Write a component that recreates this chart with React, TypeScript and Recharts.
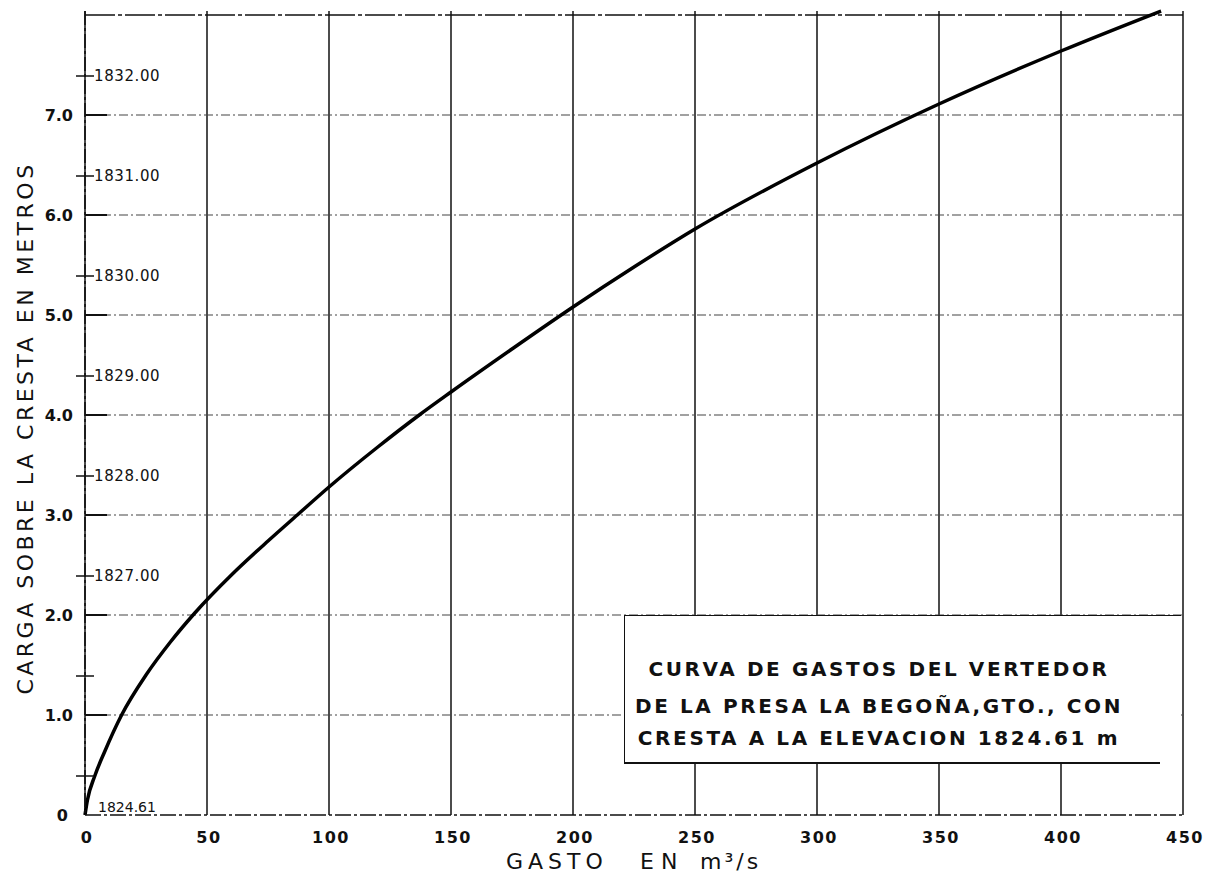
import React from 'react';
import { LineChart, Line, XAxis, YAxis, CartesianGrid, ReferenceLine } from 'recharts';

// gasto (m3/s) vs carga sobre la cresta (m)
const gasto = [0, 1, 4, 8, 15, 25, 35, 45, 60, 75, 87, 100, 120, 137, 150, 175, 200, 225, 250, 300, 350, 400, 441];
const carga = [0, 0.15, 0.39, 0.63, 1.0, 1.4, 1.73, 2.02, 2.4, 2.74, 3.0, 3.28, 3.68, 4.0, 4.23, 4.66, 5.08, 5.48, 5.86, 6.52, 7.11, 7.64, 8.04];

const gastoTicks = [0, 50, 100, 150, 200, 250, 300, 350, 400, 450];
const cargaTicks = [0, 1, 2, 3, 4, 5, 6, 7];
const cargaLabels = ['0', '1.0', '2.0', '3.0', '4.0', '5.0', '6.0', '7.0'];
const cargaMax = 8;

const elevacionCresta = 1824.61;
const elevaciones = [1825, 1826, 1827, 1828, 1829, 1830, 1831, 1832];
const elevLabels = ['', '', '1827.00', '1828.00', '1829.00', '1830.00', '1831.00', '1832.00'];

const titulo = [
  'CURVA DE GASTOS DEL VERTEDOR',
  'DE LA PRESA LA BEGOÑA,GTO., CON',
  'CRESTA A LA ELEVACION 1824.61 m',
];

const data = gasto.map((q, i) => ({ q, h: carga[i] }));
const elevTicks = elevaciones.map((e) => +(e - elevacionCresta).toFixed(2));
const yTicks = [...cargaTicks, ...elevTicks].sort((a, b) => a - b);

const ink = '#111';
const font = '"DejaVu Sans", sans-serif';

const YTick = (props: any) => {
  const { x, y, payload } = props;
  const v = payload.value;
  const ci = cargaTicks.indexOf(v);
  if (ci >= 0) {
    return (
      <g>
        <text x={x - (v === 0 ? 17 : 12)} y={y} dy={6} textAnchor="end" fontSize={16} fontWeight="bold" fill={ink} fontFamily={font}>
          {cargaLabels[ci]}
        </text>
        {v > 0 && <line x1={x} x2={x + 22} y1={y} y2={y} stroke={ink} strokeWidth={2} />}
        {v === 0 && (
          <text x={x + 13} y={y - 3} fontSize={14} fill={ink} fontFamily={font}>
            {elevacionCresta.toFixed(2)}
          </text>
        )}
      </g>
    );
  }
  const ei = elevTicks.indexOf(v);
  return (
    <g>
      <line x1={x - 9} x2={x + 9} y1={y} y2={y} stroke={ink} strokeWidth={1.5} />
      {elevLabels[ei] && (
        <text x={x + 9} y={y} dy={5} fontSize={15} letterSpacing={0.6} fill={ink} fontFamily={font}>
          {elevLabels[ei]}
        </text>
      )}
    </g>
  );
};

const XTick = (props: any) => {
  const { x, y, payload } = props;
  return (
    <text x={x + 2} y={y} dy={20} textAnchor="middle" fontSize={16} fontWeight="bold" letterSpacing={1.5} fill={ink} fontFamily={font}>
      {payload.value}
    </text>
  );
};

const XTitle = () => (
  <g fill={ink} fontFamily={font} fontSize={22}>
    <text x={506} y={869} letterSpacing={5}>GASTO</text>
    <text x={640} y={869} letterSpacing={7}>EN</text>
    <text x={700} y={869} letterSpacing={3}>m³/s</text>
  </g>
);

const YTitle = () => (
  <text
    x={0}
    y={0}
    transform="translate(33 428) rotate(-90)"
    textAnchor="middle"
    fontSize={22}
    letterSpacing={3.5}
    fill={ink}
    fontFamily={font}
  >
    CARGA  SOBRE  LA  CRESTA  EN  METROS
  </text>
);

export default function App() {
  return (
    <div style={{ position: 'absolute', left: 0, top: 0, width: 1208, height: 874, background: '#fff', fontFamily: font }}>
      <LineChart width={1208} height={874} data={data} margin={{ top: 11, right: 25, bottom: 0, left: 0 }}>
        <CartesianGrid horizontal={false} stroke={ink} strokeWidth={1.5} />
        {cargaTicks.slice(1).map((t) => (
          <ReferenceLine key={t} y={t} stroke="#444" strokeWidth={1.1} strokeDasharray="9 3 2 3" />
        ))}
        <ReferenceLine y={cargaMax} stroke={ink} strokeWidth={1.6} strokeDasharray="30 3 4 3" />
        <XAxis
          type="number"
          dataKey="q"
          domain={[0, 450]}
          ticks={gastoTicks}
          interval={0}
          height={59}
          tickLine={false}
          tick={<XTick />}
          axisLine={{ stroke: ink, strokeWidth: 1.6, strokeDasharray: '16 3 3 3' }}
          label={<XTitle />}
        />
        <YAxis
          type="number"
          domain={[0, cargaMax]}
          ticks={yTicks}
          interval={0}
          width={85}
          tickSize={0}
          tickMargin={0}
          tickLine={false}
          tick={<YTick />}
          axisLine={{ stroke: ink, strokeWidth: 1.6, strokeDasharray: '14 3 3 3' }}
          label={<YTitle />}
        />
        <Line
          type="monotone"
          dataKey="h"
          stroke="#000"
          strokeWidth={3.5}
          dot={false}
          isAnimationActive={false}
        />
      </LineChart>
      <div
        style={{
          position: 'absolute',
          left: 624,
          top: 615,
          width: 557,
          height: 148,
          background: '#fff',
          borderTop: `1.5px solid ${ink}`,
          borderLeft: `1.5px solid ${ink}`,
          boxSizing: 'border-box',
        }}
      >
        {titulo.map((t, i) => (
          <div
            key={i}
            style={{
              position: 'absolute',
              left: 0,
              width: 508,
              top: [41, 78, 110][i],
              textAlign: 'center',
              fontSize: 20,
              fontWeight: 'bold',
              lineHeight: '24px',
              letterSpacing: 2.6,
              color: ink,
              whiteSpace: 'nowrap',
            }}
          >
            {t}
          </div>
        ))}
      </div>
      <div style={{ position: 'absolute', left: 624, top: 762, width: 536, height: 2, background: ink }} />
    </div>
  );
}
